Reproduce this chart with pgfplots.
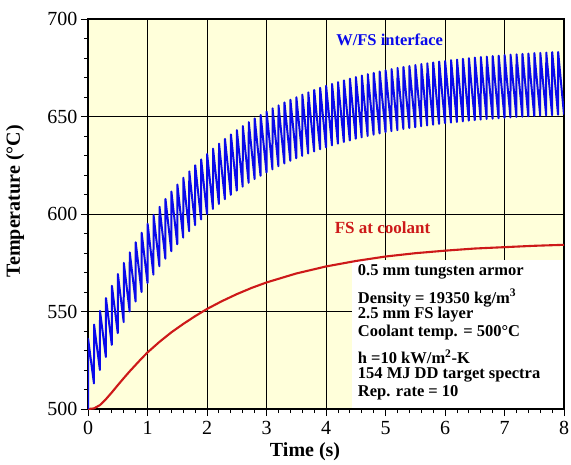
\documentclass[border=0pt]{standalone}
\usepackage{fontspec}
\setmainfont{Liberation Serif}
\usepackage{pgfplots}
\pgfplotsset{compat=1.18}
\definecolor{bgyellow}{RGB}{255,255,218}
\definecolor{wblue}{RGB}{10,10,235}
\definecolor{fsred}{RGB}{205,25,25}
\begin{document}
\begin{tikzpicture}
\begin{axis}[
  scale only axis, width=476pt, height=390pt,
  xmin=0, xmax=8, ymin=500, ymax=700,
  xtick={0,1,...,8}, ytick={500,550,600,650,700},
  minor x tick num=4, minor y tick num=4,
  tick align=outside, tickpos=left,
  major tick length=7pt, minor tick length=4pt,
  grid=major, major grid style={black, line width=0.9pt},
  axis background/.style={fill=bgyellow},
  axis line style={black, line width=1.2pt},
  tick style={black, line width=0.8pt},
  /pgf/number format/assume math mode=true,
  /pgf/number format/set thousands separator={},
  ticklabel style={font=\fontsize{20}{20}\selectfont},
  xticklabel style={yshift=-2pt},
  every axis x label/.style={at={(axis description cs:0.456,-0.110)}, anchor=center, font=\bfseries\fontsize{20}{20}\selectfont},
  every axis y label/.style={at={(axis description cs:-0.153,0.533)}, rotate=90, anchor=center, font=\bfseries\fontsize{20}{20}\selectfont},
  xlabel={Time (s)}, ylabel={Temperature (°C)},
]
\coordinate (sw) at (rel axis cs:0,0);
\coordinate (ne) at (rel axis cs:1,1);
\fill[white] (axis cs:4.43,500.3) rectangle (axis cs:7.99,576.4);

\addplot[fsred, line width=2.1pt, line join=round] coordinates {
(0,500) (0.1,500.3) (0.2,502) (0.3,505) (0.4,508.5) (0.5,512.2) (0.6,515.8)
(0.7,519.3) (0.8,522.6) (0.9,525.9) (1.0,529.0) (1.2,534.4) (1.4,539.3)
(1.6,543.6) (1.8,547.6) (2.0,551.3) (2.25,555.3) (2.5,558.9) (2.75,562.1)
(3.0,564.9) (3.5,569.5) (4.0,573.1) (4.5,575.9) (5.0,578.2) (5.5,579.9)
(6.0,581.2) (6.5,582.3) (7.0,583.0) (7.5,583.7) (8.0,584.2)
};

\addplot[wblue, line width=2pt, line join=round] coordinates {
(0,500)(0.002,536.0)
(0.1,513.1)(0.102,543.3)
(0.2,520.0)(0.202,550.3)
(0.3,526.7)(0.302,556.9)
(0.4,532.9)(0.402,563.2)
(0.5,538.9)(0.502,569.2)
(0.6,544.6)(0.602,574.9)
(0.7,550.0)(0.702,580.3)
(0.8,555.1)(0.802,585.5)
(0.9,560.0)(0.902,590.4)
(1.0,564.6)(1.002,595.0)
(1.1,568.9)(1.102,599.5)
(1.2,573.2)(1.202,603.7)
(1.3,577.1)(1.302,607.7)
(1.4,580.9)(1.402,611.5)
(1.5,584.5)(1.502,615.1)
(1.6,587.9)(1.602,618.6)
(1.7,591.2)(1.702,621.9)
(1.8,594.3)(1.802,625.0)
(1.9,597.2)(1.902,628.0)
(2.0,600.0)(2.002,630.8)
(2.1,602.6)(2.102,633.5)
(2.2,605.1)(2.202,636.1)
(2.3,607.6)(2.302,638.5)
(2.4,609.8)(2.402,640.8)
(2.5,612.0)(2.502,643.0)
(2.6,614.0)(2.602,645.1)
(2.7,616.0)(2.702,647.1)
(2.8,617.9)(2.802,649.0)
(2.9,619.6)(2.902,650.8)
(3.0,621.3)(3.002,652.5)
(3.1,622.9)(3.102,654.2)
(3.2,624.5)(3.202,655.7)
(3.3,625.9)(3.302,657.2)
(3.4,627.3)(3.402,658.6)
(3.5,628.6)(3.502,659.9)
(3.6,629.8)(3.602,661.2)
(3.7,631.0)(3.702,662.4)
(3.8,632.1)(3.802,663.6)
(3.9,633.2)(3.902,664.7)
(4.0,634.2)(4.002,665.7)
(4.1,635.2)(4.102,666.7)
(4.2,636.1)(4.202,667.6)
(4.3,636.9)(4.302,668.5)
(4.4,637.7)(4.402,669.4)
(4.5,638.6)(4.502,670.2)
(4.6,639.3)(4.602,671.0)
(4.7,640.0)(4.702,671.7)
(4.8,640.7)(4.802,672.4)
(4.9,641.3)(4.902,673.1)
(5.0,642.0)(5.002,673.7)
(5.1,642.5)(5.102,674.3)
(5.2,643.0)(5.202,674.9)
(5.3,643.6)(5.302,675.4)
(5.4,644.1)(5.402,675.9)
(5.5,644.5)(5.502,676.4)
(5.6,645.0)(5.602,676.9)
(5.7,645.4)(5.702,677.3)
(5.8,645.8)(5.802,677.7)
(5.9,646.2)(5.902,678.2)
(6.0,646.6)(6.002,678.5)
(6.1,646.9)(6.102,678.9)
(6.2,647.2)(6.202,679.2)
(6.3,647.5)(6.302,679.6)
(6.4,647.9)(6.402,679.9)
(6.5,648.1)(6.502,680.2)
(6.6,648.4)(6.602,680.5)
(6.7,648.7)(6.702,680.7)
(6.8,648.9)(6.802,681.0)
(6.9,649.1)(6.902,681.2)
(7.0,649.3)(7.002,681.5)
(7.1,649.6)(7.102,681.7)
(7.2,649.8)(7.202,681.9)
(7.3,649.9)(7.302,682.1)
(7.4,650.1)(7.402,682.3)
(7.5,650.3)(7.502,682.5)
(7.6,650.5)(7.602,682.6)
(7.7,650.6)(7.702,682.8)
(7.8,650.7)(7.802,683.0)
(7.9,650.9)(7.902,683.1)
(8.0,651.0)
};

\node[wblue, font=\bfseries\fontsize{16.5}{16.5}\selectfont] at (axis cs:5.07,689.2) {W/FS interface};
\node[fsred, font=\bfseries\fontsize{17}{17}\selectfont] at (axis cs:4.95,592.8) {FS at coolant};

\begin{scope}[every node/.style={anchor=west, inner sep=0pt, font=\bfseries\fontsize{16.5}{16.5}\selectfont}]
\node at (axis cs:4.533,570.3) {0.5 mm tungsten armor};
\node at (axis cs:4.533,556.9) {Density = 19350 kg/m\textsuperscript{3}};
\node at (axis cs:4.533,548.2) {2.5 mm FS layer};
\node at (axis cs:4.533,539.0) {Coolant temp. = 500°C};
\node at (axis cs:4.533,526.7) {h =10 kW/m\textsuperscript{2}-K};
\node at (axis cs:4.533,517.4) {154 MJ DD target spectra};
\node at (axis cs:4.533,508.2) {Rep. rate = 10};
\end{scope}
\end{axis}
\pgfresetboundingbox
\path ([shift={(-88pt,-55pt)}]sw) rectangle ([shift={(7pt,19pt)}]ne);
\end{tikzpicture}
\end{document}
